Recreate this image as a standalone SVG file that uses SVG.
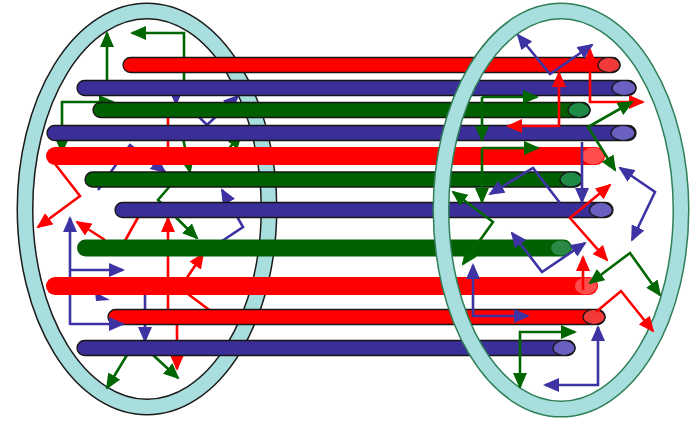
<svg xmlns="http://www.w3.org/2000/svg" width="690" height="421" viewBox="0 0 690 421">
<style>
.ringL{fill:none;stroke:#1c1c1c;stroke-width:17}
.ringR{fill:none;stroke:#2f7f57;stroke-width:17}
.ringfill{fill:none;stroke:#a9dede;stroke-width:14}
.bar{stroke:#161616;stroke-width:1.3}
.red{fill:#ff0000}
.blue{fill:#3a2f99}
.green{fill:#005f00}
.capR{fill:#f23a3a;stroke:#161616;stroke-width:1.2}
.capB{fill:#6a60c2;stroke:#161616;stroke-width:1.2}
.capG{fill:#1d8a45;stroke:#161616;stroke-width:1.2}
.fadeR{fill:#ff4d4d}
.fadeG{fill:#2a8a45}
.ar{fill:none;stroke-width:2.6;stroke-linejoin:miter}
.r{stroke:#ff0000}
.b{stroke:#3d33a3}
.g{stroke:#006600}
.r.e{marker-end:url(#hr)}
.b.e{marker-end:url(#hb)}
.g.e{marker-end:url(#hg)}
.r.s{marker-start:url(#hr)}
.b.s{marker-start:url(#hb)}
.g.s{marker-start:url(#hg)}
</style>
<defs>
<marker id="hr" viewBox="0 0 16 14" refX="14" refY="7" markerWidth="16" markerHeight="14" markerUnits="userSpaceOnUse" orient="auto-start-reverse"><path d="M0,0L16,7L0,14z" fill="#ff0000"/></marker>
<marker id="hb" viewBox="0 0 16 14" refX="14" refY="7" markerWidth="16" markerHeight="14" markerUnits="userSpaceOnUse" orient="auto-start-reverse"><path d="M0,0L16,7L0,14z" fill="#3d33a3"/></marker>
<marker id="hg" viewBox="0 0 16 14" refX="14" refY="7" markerWidth="16" markerHeight="14" markerUnits="userSpaceOnUse" orient="auto-start-reverse"><path d="M0,0L16,7L0,14z" fill="#006600"/></marker>
</defs>
<rect width="690" height="421" fill="#ffffff"/>

<g id="left-ring">
<ellipse class="ringL" cx="147" cy="209" rx="122" ry="198"/>
<ellipse class="ringfill" cx="147" cy="209" rx="122" ry="198"/>
</g>

<g id="left-arrows">
<path class="ar g e" d="M107,82V33"/>
<path class="ar g e" d="M184,82V33H132"/>
<path class="ar g e" d="M62,128V102H113"/>
<path class="ar g e" d="M62,128V152"/>
<path class="ar g e" d="M183,138L190,172"/>
<path class="ar g e" d="M226,152L241,134"/>
<path class="ar g e" d="M170,186L158,200L197,238"/>
<path class="ar g e" d="M127,355L107,388"/>
<path class="ar g e" d="M153,355L178,378"/>
<path class="ar r e" d="M52,160L80,196L38,227"/>
<path class="ar r" d="M168,112V158"/>
<path class="ar r e" d="M105,240L77,222"/>
<path class="ar r" d="M122,246L145,205"/>
<path class="ar r e" d="M168,312V218"/>
<path class="ar r e" d="M212,312L180,288L203,254"/>
<path class="ar r e" d="M177,318V369"/>
<path class="ar b e" d="M98,190L130,145L165,172"/>
<path class="ar b e" d="M176,90V104"/>
<path class="ar b e" d="M190,108L207,125L238,96"/>
<path class="ar b e" d="M222,241L243,227L222,190"/>
<path class="ar b e" d="M70,325V218"/>
<path class="ar b e" d="M70,270H123"/>
<path d="M95,292L110,300L96,301z" fill="#3d33a3"/>
<path class="ar b e" d="M145,290V341"/>
</g>

<g id="tubes">
<g id="tube1"><rect class="bar red" x="123" y="57.5" width="497" height="15" rx="7.5"/><ellipse class="capR" cx="609" cy="65" rx="11" ry="7.5"/></g>
<g id="tube2"><rect class="bar blue" x="77" y="80.5" width="559" height="15" rx="7.5"/><ellipse class="capB" cx="624" cy="88" rx="12" ry="7.5"/></g>
<g id="tube3"><rect class="bar green" x="93" y="102.5" width="497" height="15" rx="7.5"/><ellipse class="capG" cx="579" cy="110" rx="11" ry="7.5"/></g>
<g id="tube4"><rect class="bar blue" x="47" y="125.5" width="589" height="15" rx="7.5"/><ellipse class="capB" cx="623" cy="133" rx="12" ry="7.5"/></g>
<g id="tube5"><rect class="red" x="46" y="147" width="559" height="18" rx="9"/><ellipse class="fadeR" cx="593" cy="156" rx="11" ry="8.5"/></g>
<g id="tube6"><rect class="bar green" x="85" y="172" width="497" height="15" rx="7.5"/><ellipse class="capG" cx="571" cy="179.5" rx="11" ry="7.5"/></g>
<g id="tube7"><rect class="bar blue" x="115" y="202.5" width="498" height="15" rx="7.5"/><ellipse class="capB" cx="601" cy="210" rx="11.5" ry="7.5"/></g>
<g id="tube8"><rect class="green" x="77" y="239.5" width="495" height="17" rx="8.5"/><ellipse class="fadeG" cx="561" cy="248" rx="10" ry="7.5"/></g>
<g id="tube9"><rect class="red" x="46" y="277" width="552" height="18" rx="9"/><ellipse class="fadeR" cx="586" cy="286" rx="11" ry="8.5"/></g>
<g id="tube10"><rect class="bar red" x="108" y="309.5" width="497" height="15" rx="7.5"/><ellipse class="capR" cx="594" cy="317" rx="11" ry="7.5"/></g>
<g id="tube11"><rect class="bar blue" x="77" y="340.5" width="498" height="15" rx="7.5"/><ellipse class="capB" cx="564" cy="348" rx="11" ry="7.5"/></g>
</g>

<g id="left-front">
<path class="ar b e" d="M70,324H123"/>
</g>

<g id="right-ring">
<ellipse class="ringR" cx="561" cy="210" rx="120" ry="199"/>
<ellipse class="ringfill" cx="561" cy="210" rx="120" ry="199"/>
</g>

<g id="right-arrows">
<path class="ar b e s" d="M518,35L550,74L592,45"/>
<path class="ar b e" d="M582,142V202"/>
<path class="ar b e" d="M560,203L533,168L490,194"/>
<path class="ar b e s" d="M512,233L542,272L585,243"/>
<path class="ar b e s" d="M473,265V316H528"/>
<path class="ar b e s" d="M620,168L655,192L632,240"/>
<path class="ar b e s" d="M545,385H598V327"/>
<path class="ar r e s" d="M508,126H559V73"/>
<path class="ar r e s" d="M590,50V102H643"/>
<path class="ar r e s" d="M610,185L570,218L607,260"/>
<path class="ar r e" d="M583,290V257"/>
<path class="ar r e" d="M596,312L621,291L653,331"/>
<path class="ar g e" d="M482,97H537"/>
<path class="ar g e" d="M482,97V140"/>
<path class="ar g e" d="M482,148H538"/>
<path class="ar g e" d="M482,148V202"/>
<path class="ar g e s" d="M632,102L588,127L615,170"/>
<path class="ar g e s" d="M453,192L493,222L463,264"/>
<path class="ar g e s" d="M590,283L630,253L660,295"/>
<path class="ar g e s" d="M575,332H520V387"/>
</g>
</svg>
